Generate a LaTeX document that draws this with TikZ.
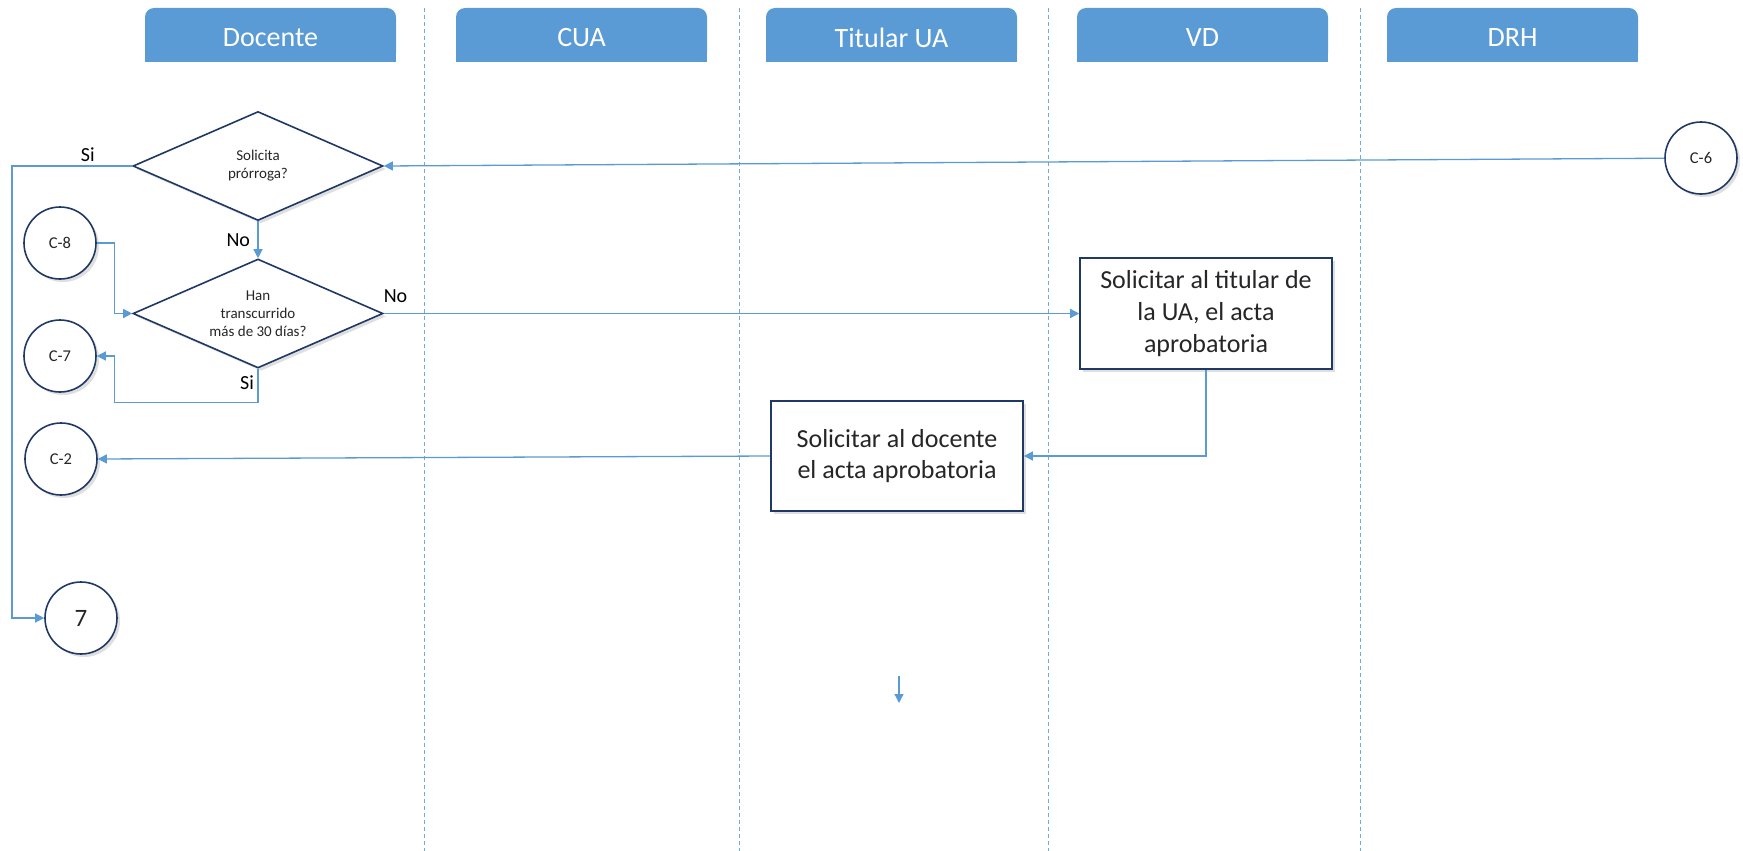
\documentclass[tikz,border=0pt]{standalone}
\usepackage{fontspec}
\setmainfont{Carlito}
\usetikzlibrary{positioning,shapes.geometric,shadows,arrows.meta,calc}
\definecolor{laneblue}{RGB}{91,155,213}
\definecolor{edgenavy}{RGB}{31,56,100}
\definecolor{txtgray}{RGB}{38,38,38}

\begin{document}
\begin{tikzpicture}[x=1pt,y=-1pt,
		softshadow/.style={drop shadow={opacity=0.25,shadow xshift=3pt,shadow yshift=-3pt}},
		decision/.style={diamond, aspect=2.3, draw=edgenavy, line width=1.6pt, fill=white, softshadow,
		minimum width=250pt, minimum height=109pt, inner sep=0pt, align=center,
		font=\fontsize{15}{18}\selectfont, text=txtgray},
		task/.style={rectangle, draw=edgenavy, line width=1.6pt, fill=white, softshadow,
		minimum width=252pt, minimum height=110pt, align=center,
		font=\fontsize{26}{32}\selectfont, text=txtgray},
		connector/.style={circle, draw=edgenavy, line width=1.6pt, fill=white, softshadow,
		minimum size=72pt, inner sep=0pt, font=\fontsize{16.5}{20}\selectfont, text=txtgray},
		flow/.style={draw=laneblue, line width=1.3pt, -{Triangle[length=9pt,width=9pt]}},
		lbl/.style={font=\fontsize{20}{24}\selectfont, text=black}]
		\tikzset{lane/.style={draw=laneblue!85, line width=1pt, dash pattern=on 4pt off 3pt},
		lanehead/.style={text=white, font=\fontsize{28}{34}\selectfont}}
		\useasboundingbox (0,0) rectangle (1743,851);
		% swimlanes
		\foreach \x in {424,739,1048,1360}
			\draw[lane] (\x,8) -- (\x,851);
		\foreach \x/\name [count=\i] in {145/Docente,456/CUA,766/Titular UA,1077/VD,1387/DRH}{
			\fill[laneblue, rounded corners=9pt] (\x,8) rectangle ++(251,54);
			\fill[laneblue] (\x,40) rectangle ++(251,22);
			\node[lanehead] (h\i) at (\x+125.5,37.5) {\name};
		}
		% nodes
		\node[decision] (d1) at (258,166) {Solicita\\prórroga?};
		\node[decision] (d2) at (258,313.5) {Han\\transcurrido\\más de 30 días?};
		\node[connector] (c8) at (60,243) {C-8};
		\node[connector] (c7) at (60,356) {C-7};
		\node[connector] (c2) at (61,459) {C-2};
		\node[connector, font=\fontsize{25}{30}\selectfont] (n7) at (81,618) {7};
		\node[connector] (c6) at (1701,158) {C-6};
		\node[task, minimum height=111pt] (vdtask) at (1206,313.5) {Solicitar al titular de\\la UA, el acta\\aprobatoria};
		\node[task, font=\fontsize{26}{31.5}\selectfont] (uatask) at (897,456) {Solicitar al docente\\el acta aprobatoria};
		\coordinate (s1) at (899,676);
		\coordinate (s2) at (899,703);
		% connectors
		\draw[flow] (c6) -- (d1.east);
		\draw[flow] (d1.west) -- node[lbl, pos=0.37, above] {Si} (12,166) |- (n7.west);
		\draw[flow] (d1.south) -- node[lbl, midway, left, xshift=-4pt] {No} (d2.north);
		\draw[flow] (c8.east) -- ++(18,0) |- (d2.west);
		\draw[flow] (d2.south) -- node[lbl, pos=0.4, left] {Si} ++(0,33.5)
			-| ($(c7.east)+(18,0)$) -- (c7.east);
		\draw[flow] (d2.east) -- node[lbl, pos=0, above right, yshift=7pt, xshift=-4pt] {No} (vdtask.west);
		\draw[flow] (vdtask.south) |- (uatask.east);
		\draw[flow] (uatask.west) -- (c2.east);
		\draw[flow] (s1) -- (s2);
	\end{tikzpicture}
\end{document}
